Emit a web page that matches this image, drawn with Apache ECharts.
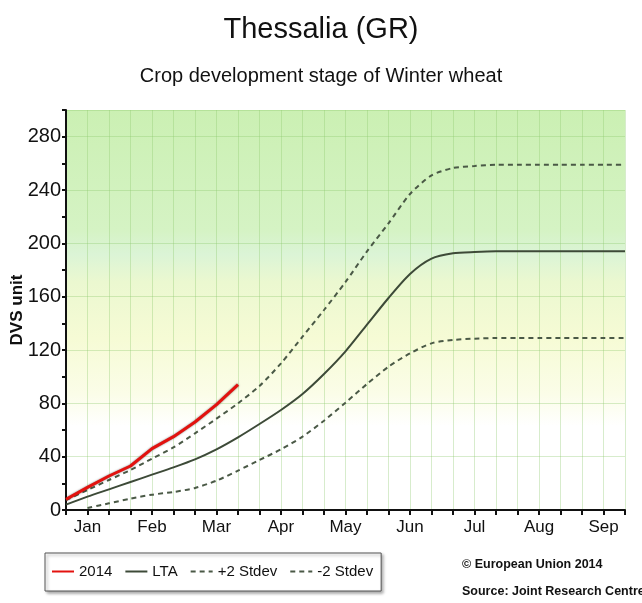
<!DOCTYPE html>
<html>
<head>
<meta charset="utf-8">
<script src="https://cdn.jsdelivr.net/npm/echarts@6/dist/echarts.min.js"></script>
<style>
  html, body { margin: 0; padding: 0; background: #fff; }
  #chart { width: 642px; height: 603px; }
</style>
</head>
<body>
<div id="chart"></div>
<script>
// dekads (10-day periods), 3 per month
const months = ['Jan', 'Feb', 'Mar', 'Apr', 'May', 'Jun', 'Jul', 'Aug', 'Sep'];
const dekads = months.flatMap(m => [m + ' 1', m + ' 2', m + ' 3']);

const yTicks = [0, 40, 80, 120, 160, 200, 240, 280];

const season2014 = [8, 17, 25.5, 33, 46, 55, 66, 79, 94];
const lta = [4, 10, 15.5, 21, 26.5, 32, 38, 45.5, 54.5, 64.5, 75, 87, 102, 119, 139, 159, 177, 188.5, 192.5, 193.5, 194, 194, 194, 194, 194, 194, 194];
const plus2 = [7.5, 15, 22.5, 30, 38.5, 47, 57.5, 68.5, 80, 93, 110, 130, 150, 171, 194, 215, 237, 251, 256.5, 258, 259, 259, 259, 259, 259, 259, 259];
const minus2 = [null, 1.5, 5, 8.5, 11.5, 13.5, 16.5, 22, 29.5, 37.5, 45.5, 55, 67, 80.5, 94.5, 107.5, 117.5, 125, 127.5, 128.5, 129, 129, 129, 129, 129, 129, 129];

const font = "'Liberation Sans', Arial, sans-serif";

let myChart = echarts.init(document.getElementById('chart'));
myChart.setOption({
    animation: false,
    title: [{
        text: 'Thessalia (GR)',
        left: 'center',
        top: 10,
        textStyle: { fontFamily: font, fontSize: 29, fontWeight: 'normal', color: '#111' }
    }, {
        text: 'Crop development stage of Winter wheat',
        left: 'center',
        top: 61,
        textStyle: { fontFamily: font, fontSize: 20, fontWeight: 'normal', color: '#111' }
    }],
    grid: {
        left: 66, right: 17, top: 110, bottom: 93,
        outerBoundsMode: 'none',
        show: true,
        borderWidth: 0,
        backgroundColor: new echarts.graphic.LinearGradient(0, 0, 0, 1, [
            { offset: 0, color: '#cbf0b3' },
            { offset: 0.3, color: '#d5f3c4' },
            { offset: 0.36, color: '#dbf4d6' },
            { offset: 0.43, color: '#ebf8d0' },
            { offset: 0.57, color: '#f6fbd5' },
            { offset: 0.71, color: '#fbfde8' },
            { offset: 0.79, color: '#ffffff' },
            { offset: 1, color: '#ffffff' }
        ])
    },
    legend: {
        left: 45, top: 553,
        itemWidth: 22,
        itemHeight: 10,
        itemGap: 12,
        itemTextGap: 6,
        padding: [11, 8, 12, 6],
        borderColor: '#555',
        borderWidth: 1,
        backgroundColor: '#fff',
        shadowColor: 'rgba(0,0,0,0.35)',
        shadowBlur: 3,
        shadowOffsetX: 2,
        shadowOffsetY: 2,
        itemStyle: { opacity: 0 },
        textStyle: { fontFamily: font, fontSize: 15, color: '#111' },
        data: ['2014', 'LTA', '+2 Stdev', '-2 Stdev']
    },
    graphic: [{
        type: 'text', left: 462, top: 558,
        style: { text: '© European Union 2014', font: "bold 12.5px " + font, fill: '#111' }
    }, {
        type: 'text', left: 462, top: 585,
        style: { text: 'Source: Joint Research Centre', font: "bold 12.5px " + font, fill: '#111' }
    }],
    xAxis: {
        type: 'category',
        data: dekads,
        boundaryGap: false,
        axisLine: { lineStyle: { color: '#111', width: 2 } },
        axisTick: { show: true, interval: 0, length: 5, lineStyle: { color: '#111', width: 2 } },
        axisLabel: {
            interval: 0,
            margin: 9,
            fontFamily: font,
            fontSize: 17,
            color: '#111',
            formatter: v => v.endsWith(' 2') ? v.split(' ')[0] : ''
        },
        splitLine: { show: true, interval: 0, lineStyle: { color: 'rgba(140,200,110,0.35)', width: 1 } }
    },
    yAxis: {
        type: 'value',
        min: 0,
        max: 300,
        interval: 40,
        name: 'DVS unit',
        nameLocation: 'middle',
        nameRotate: 90,
        nameGap: 40,
        nameMoveOverlap: false,
        nameTextStyle: { fontFamily: font, fontSize: 17, fontWeight: 'bold', color: '#111' },
        axisLine: { show: true, lineStyle: { color: '#111', width: 2 } },
        axisTick: { show: true, length: 4, lineStyle: { color: '#111', width: 2 } },
        minorTick: { show: true, splitNumber: 2, length: 4, lineStyle: { color: '#111', width: 2 } },
        axisLabel: {
            fontFamily: font,
            fontSize: 20,
            color: '#111',
            margin: 5,
            showMaxLabel: false,
            formatter: v => yTicks.includes(v) ? String(v) : ''
        },
        splitLine: { show: true, lineStyle: { color: 'rgba(140,200,110,0.35)', width: 1 } }
    },
    series: [{
        name: '2014',
        type: 'line',
        data: season2014,
        symbol: 'none',
        z: 5,
        lineStyle: { color: '#e3120f', width: 3, shadowColor: 'rgba(0,0,0,0.5)', shadowBlur: 2 },
        itemStyle: { color: '#c00d0a' }
    }, {
        name: 'LTA',
        type: 'line',
        data: lta,
        symbol: 'none',
        smooth: 0.25,
        lineStyle: { color: '#3d4a38', width: 2 },
        itemStyle: { color: '#3d4a38' }
    }, {
        name: '+2 Stdev',
        type: 'line',
        data: plus2,
        symbol: 'none',
        smooth: 0.25,
        lineStyle: { color: '#4a5946', width: 2, type: [5, 4] },
        itemStyle: { color: '#4a5946' }
    }, {
        name: '-2 Stdev',
        type: 'line',
        data: minus2,
        symbol: 'none',
        smooth: 0.25,
        lineStyle: { color: '#4a5946', width: 2, type: [5, 4] },
        itemStyle: { color: '#4a5946' }
    }]
});
</script>
</body>
</html>
